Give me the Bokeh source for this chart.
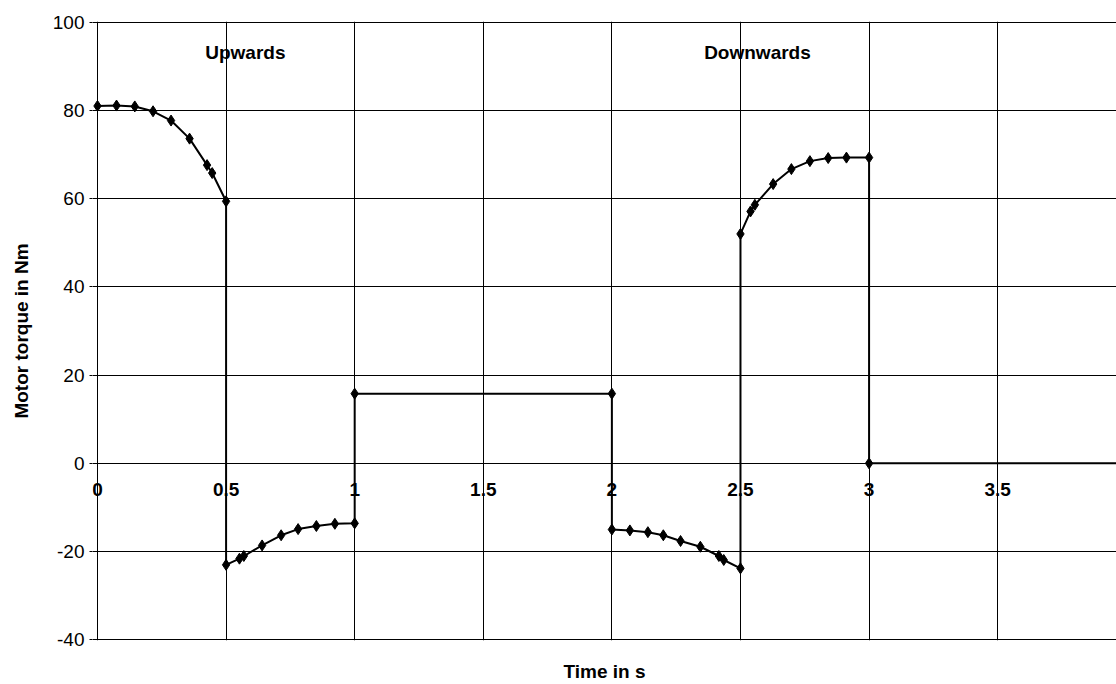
from bokeh.plotting import figure
from bokeh.embed import file_html
from bokeh.resources import INLINE
from bokeh.models import (LinearAxis, SingleIntervalTicker, FixedTicker, Grid,
                          CustomJSTickFormatter, Range1d, ColumnDataSource, LabelSet)
from bokeh.core.properties import value

# ---- data ----
up_t = [0.0, 0.074, 0.145, 0.216, 0.286, 0.358, 0.426, 0.446, 0.5]
up_y = [81.0, 81.1, 80.9, 79.8, 77.7, 73.6, 67.6, 65.8, 59.4]

brake1_t = [0.5, 0.552, 0.569, 0.640, 0.714, 0.780, 0.851, 0.923, 1.0]
brake1_y = [-23.0, -21.6, -21.0, -18.6, -16.3, -14.9, -14.2, -13.7, -13.6]

hold_t = [1.0, 2.0]
hold_y = [15.8, 15.8]

down_t = [2.0, 2.07, 2.14, 2.2, 2.267, 2.344, 2.416, 2.435, 2.5]
down_y = [-15.0, -15.2, -15.6, -16.3, -17.6, -18.9, -21.0, -21.9, -23.8]

brake2_t = [2.5, 2.539, 2.556, 2.627, 2.698, 2.770, 2.841, 2.912, 3.0]
brake2_y = [52.0, 57.1, 58.6, 63.3, 66.7, 68.5, 69.2, 69.3, 69.3]

tail_t = [3.0, 4.0]
tail_y = [0.0, 0.0]

x_ticks = [0, 0.5, 1, 1.5, 2, 2.5, 3, 3.5, 4]
x_tick_labels = ["0", "0.5", "1", "1.5", "2", "2.5", "3", "3.5", "4"]

phase_labels = ["Upwards", "Downwards"]
phase_x = [0.575, 2.566]
phase_y = [93.2, 93.2]

FONT = "Liberation Sans"

t = up_t + brake1_t + hold_t + down_t + brake2_t + tail_t
y = up_y + brake1_y + hold_y + down_y + brake2_y + tail_y
src = ColumnDataSource(dict(t=t, y=y))

p = figure(width=1116, height=684, output_backend="svg", toolbar_location=None,
           x_range=Range1d(-0.0194, 3.962), y_range=Range1d(-40.15, 100.15),
           x_axis_type=None, y_axis_type=None,
           min_border_left=92, min_border_right=0, min_border_top=21, min_border_bottom=42)
p.outline_line_color = None
p.background_fill_color = "white"
p.border_fill_color = "white"

xticker = FixedTicker(ticks=x_ticks)
yticker = SingleIntervalTicker(interval=20)

p.add_layout(Grid(dimension=0, ticker=xticker, grid_line_color="black", grid_line_width=1))
p.add_layout(Grid(dimension=1, ticker=yticker, grid_line_color="black", grid_line_width=1))

yaxis = LinearAxis(ticker=yticker, axis_label="Motor torque in Nm",
                   formatter=CustomJSTickFormatter(code="return String(tick)"),
                   axis_line_color=None, major_tick_line_color="black",
                   major_tick_in=0, major_tick_out=3, minor_tick_line_color=None,
                   major_label_standoff=4,
                   major_label_text_font=FONT, major_label_text_font_size="19px",
                   major_label_text_color="black",
                   axis_label_text_font=FONT, axis_label_text_font_size="19px",
                   axis_label_text_font_style="bold", axis_label_text_color="black",
                   axis_label_standoff=18)
p.add_layout(yaxis, "left")

xtitle = LinearAxis(ticker=FixedTicker(ticks=[]), axis_label="Time in s",
                    axis_line_color=None, major_tick_line_color=None, minor_tick_line_color=None,
                    major_tick_in=0, major_tick_out=0, major_label_standoff=0,
                    axis_label_text_font=FONT, axis_label_text_font_size="19px",
                    axis_label_text_font_style="bold", axis_label_text_color="black",
                    axis_label_standoff=20)
p.add_layout(xtitle, "below")

tick_src = ColumnDataSource(dict(x=x_ticks, y=[0] * len(x_ticks), text=x_tick_labels))
p.add_layout(LabelSet(x="x", y="y", text="text", source=tick_src, y_offset=-20,
                      text_align="center", text_baseline="top",
                      text_font=value(FONT), text_font_size="19px",
                      text_font_style="bold", text_color="black"))

p.line("t", "y", source=src, line_color="black", line_width=2)
p.scatter("t", "y", source=src, marker="diamond", size=11,
          fill_color="black", line_color="black")

p.text(x=phase_x, y=phase_y, text=phase_labels, text_font=value(FONT),
       text_font_size="19px", text_font_style="bold", text_color="black",
       text_align="center", text_baseline="middle")

open("out.html", "w").write(file_html(p, INLINE))
